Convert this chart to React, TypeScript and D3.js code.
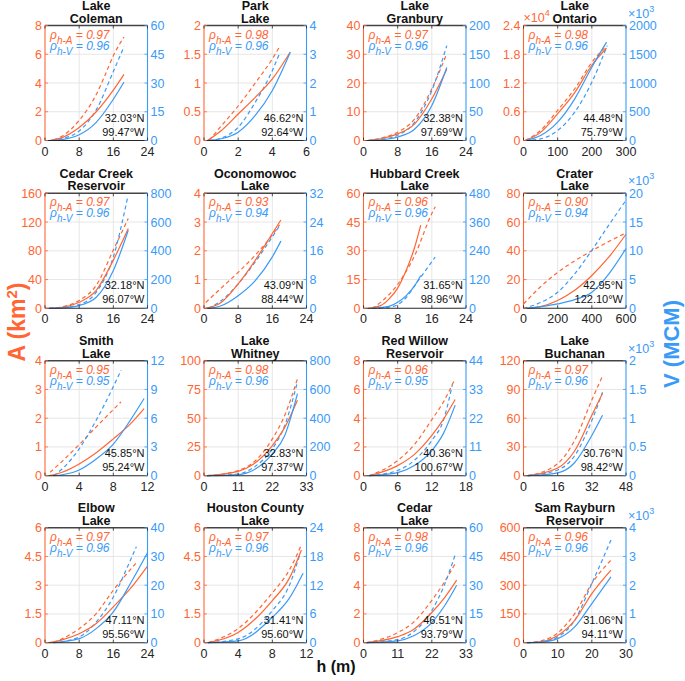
import React from "react";
import * as d3 from "d3";

// ---------- data ----------
const lakeNames: string[][] = [
  ["Lake", "Coleman"], ["Park", "Lake"], ["Lake", "Granbury"], ["Lake", "Ontario"],
  ["Cedar Creek", "Reservoir"], ["Oconomowoc", "Lake"], ["Hubbard Creek", "Lake"], ["Crater", "Lake"],
  ["Smith", "Lake"], ["Lake", "Whitney"], ["Red Willow", "Reservoir"], ["Lake", "Buchanan"],
  ["Elbow", "Lake"], ["Houston County", "Lake"], ["Cedar", "Lake"], ["Sam Rayburn", "Reservoir"],
];
const latitudes = ["32.03°N", "46.62°N", "32.38°N", "44.48°N", "32.18°N", "43.09°N", "31.65°N", "42.95°N",
  "45.85°N", "32.83°N", "40.36°N", "30.76°N", "47.11°N", "31.41°N", "46.51°N", "31.06°N"];
const longitudes = ["99.47°W", "92.64°W", "97.69°W", "75.79°W", "96.07°W", "88.44°W", "98.96°W", "122.10°W",
  "95.24°W", "97.37°W", "100.67°W", "98.42°W", "95.56°W", "95.60°W", "93.79°W", "94.11°W"];
const rhoA = ["0.97", "0.98", "0.97", "0.98", "0.97", "0.93", "0.96", "0.90", "0.95", "0.98", "0.96", "0.97", "0.97", "0.97", "0.98", "0.96"];
const rhoV = ["0.96", "0.96", "0.96", "0.96", "0.96", "0.94", "0.96", "0.94", "0.95", "0.96", "0.95", "0.96", "0.96", "0.96", "0.96", "0.96"];

const hTicks = [[0, 8, 16, 24], [0, 2, 4, 6], [0, 8, 16, 24], [0, 100, 200, 300], [0, 8, 16, 24], [0, 8, 16, 24], [0, 8, 16, 24], [0, 200, 400, 600],
  [0, 4, 8, 12], [0, 11, 22, 33], [0, 6, 12, 18], [0, 16, 32, 48], [0, 8, 16, 24], [0, 4, 8, 12], [0, 11, 22, 33], [0, 10, 20, 30]];
const areaTicks = [[0, 2, 4, 6, 8], [0, 0.5, 1, 1.5, 2], [0, 10, 20, 30, 40], [0, 0.6, 1.2, 1.8, 2.4], [0, 40, 80, 120, 160], [0, 1, 2, 3, 4], [0, 15, 30, 45, 60], [0, 20, 40, 60, 80],
  [0, 1, 2, 3, 4], [0, 25, 50, 75, 100], [0, 2, 4, 6, 8], [0, 30, 60, 90, 120], [0, 1.5, 3, 4.5, 6], [0, 1.5, 3, 4.5, 6], [0, 2, 4, 6, 8], [0, 150, 300, 450, 600]];
const volumeTicks = [[0, 15, 30, 45, 60], [0, 1, 2, 3, 4], [0, 50, 100, 150, 200], [0, 500, 1000, 1500, 2000], [0, 200, 400, 600, 800], [0, 8, 16, 24, 32], [0, 120, 240, 360, 480], [0, 5, 10, 15, 20],
  [0, 3, 6, 9, 12], [0, 200, 400, 600, 800], [0, 11, 22, 33, 44], [0, 0.5, 1, 1.5, 2], [0, 10, 20, 30, 40], [0, 6, 12, 18, 24], [0, 15, 30, 45, 60], [0, 1, 2, 3, 4]];
const areaExponent = [null, null, null, 4, null, null, null, null, null, null, null, null, null, null, null, null];
const volumeExponent = [null, null, null, 3, null, null, null, 3, null, null, null, 3, null, null, null, 3];

// A solid (observed), A dashed (estimated), V solid, V dashed : [h, value]
const areaSolid: number[][][] = [
  [[1, 0], [4, 0.2], [8, 0.9], [12, 2.0], [16, 3.5], [18.5, 4.6]],
  [[0.2, 0], [1, 0.17], [2, 0.46], [3, 0.75], [4, 1.07], [5.05, 1.54]],
  [[1, 0], [4, 0.6], [8, 2.3], [12, 5.8], [16, 14.5], [19.5, 24.8]],
  [[5, 0], [50, 0.17], [100, 0.56], [150, 1.0], [200, 1.57], [243, 1.93]],
  [[1, 0], [4, 1.4], [8, 8.4], [12, 25], [16, 67], [19.5, 111]],
  [[0.5, 0], [4, 0.2], [8, 0.85], [12, 1.67], [16, 2.6], [18, 3.07]],
  [[1, 0], [4, 1.4], [6, 4.9], [8, 10.5], [10, 19.8], [12, 32], [13.4, 43.4]],
  [[20, 0], [100, 1.2], [200, 5.4], [300, 12.5], [400, 22.8], [500, 35.7], [600, 51.5]],
  [[0.5, 0], [2, 0.12], [4, 0.41], [6, 0.8], [8, 1.28], [10, 1.8], [11.6, 2.33]],
  [[1, 0], [11, 3.8], [16, 10.2], [22, 26.2], [26, 42], [30.1, 65.6]],
  [[1, 0], [6, 0.7], [9, 1.5], [12, 2.8], [14, 3.9], [16.1, 5.3]],
  [[2, 0], [16, 8], [24, 26], [32, 63], [37, 86]],
  [[1, 0], [4, 0.15], [8, 0.47], [12, 1.0], [16, 1.87], [20, 2.83], [24, 4.0]],
  [[0.5, 0], [4, 0.53], [8, 2.2], [10, 3.37], [11.4, 4.84]],
  [[1, 0], [11, 0.42], [16, 0.9], [22, 2.1], [26, 3.1], [30, 4.35]],
  [[1, 0], [5, 5], [10, 38], [15, 117], [20, 256], [25.6, 379]],
];
const areaDashed: number[][][] = [
  [[2, 0.05], [4, 0.3], [8, 1.4], [12, 3.2], [14, 4.5], [16, 5.9], [18.5, 7.2]],
  [[0.3, 0], [1, 0.25], [2, 0.6], [3, 1.0], [4, 1.42], [4.4, 1.62]],
  [[1, 0], [4, 0.8], [8, 2.9], [12, 7.5], [16, 18], [19.5, 30.2]],
  [[5, 0], [50, 0.21], [100, 0.63], [150, 1.08], [200, 1.63], [243, 1.98]],
  [[1, 0], [4, 2], [8, 11], [12, 32], [16, 81], [19.5, 125]],
  [[0.4, 0.2], [4, 0.7], [8, 1.25], [12, 1.85], [16, 2.55], [17.7, 2.9]],
  [[2, 0], [4, 3.1], [8, 12.5], [12, 27.6], [16, 49.5], [16.8, 53]],
  [[0, 3], [100, 15], [200, 25], [300, 33], [400, 40], [500, 46.5], [600, 52.4]],
  [[0.6, 0.12], [2, 0.5], [4, 1.08], [6, 1.7], [8, 2.3], [8.9, 2.57]],
  [[1, 0], [11, 4.5], [16, 11.7], [22, 32], [26, 52.5], [30.1, 84.5]],
  [[1, 0], [6, 1.05], [9, 2.2], [12, 3.9], [14, 5.1], [15.9, 6.6]],
  [[2, 0], [16, 12.6], [24, 37], [32, 79], [37, 104]],
  [[2, 0], [4, 0.2], [8, 0.73], [12, 1.52], [16, 2.74], [21.6, 4.22]],
  [[0.5, 0], [4, 0.74], [8, 2.6], [10, 3.8], [11.4, 5.1]],
  [[1, 0], [11, 0.7], [16, 1.4], [22, 2.95], [26, 4.2], [29.5, 5.5]],
  [[1, 0], [5, 9], [10, 51], [15, 152], [20, 309], [25.6, 431]],
];
const volumeSolid: number[][][] = [
  [[1, 0], [4, 0.5], [8, 3], [12, 9.5], [16, 21.5], [18.5, 30.5]],
  [[0.2, 0], [1, 0.06], [2, 0.29], [3, 0.87], [4, 1.74], [5.05, 3.07]],
  [[1, 0], [4, 1], [8, 6], [12, 20], [16, 61], [19.5, 127]],
  [[5, 0], [50, 87], [100, 320], [150, 725], [200, 1275], [243, 1710]],
  [[1, 0], [4, 3], [8, 19], [12, 77], [16, 263], [19.5, 543]],
  [[1, 0], [4, 0.7], [8, 3.5], [12, 7.7], [16, 14.3], [18, 18.7]],
  [[2, 0], [6, 8], [8, 25], [10, 53], [12, 95], [13.4, 137]],
  [[20, 0], [200, 0.76], [300, 1.5], [400, 2.8], [500, 6.0], [600, 10.4]],
  [[1, 0], [2, 0.1], [4, 0.6], [6, 1.75], [8, 3.3], [10, 5.8], [11.6, 8.05]],
  [[1, 0], [11, 8], [16, 40], [22, 152], [26, 280], [30.1, 571]],
  [[1, 0], [6, 1.2], [9, 4], [12, 9.6], [14, 16], [16.1, 27]],
  [[2, 0], [16, 0.05], [24, 0.23], [32, 0.7], [37, 1.05]],
  [[2, 0], [8, 1.4], [12, 4.9], [16, 10.7], [20, 20.6], [24, 31.3]],
  [[0.5, 0], [4, 0.4], [8, 5.3], [10, 9.3], [11.6, 14.5]],
  [[1, 0], [11, 1], [16, 3.5], [22, 10.5], [26, 19], [30, 30]],
  [[1, 0], [5, 0.02], [10, 0.14], [15, 0.55], [20, 1.36], [25.6, 2.29]],
];
const volumeDashed: number[][][] = [
  [[1.5, 0], [4, 1], [8, 5], [12, 16], [16, 36], [18.5, 49]],
  [[0.3, 0], [1, 0.08], [2, 0.46], [3, 1.33], [4, 2.43], [4.4, 3.0]],
  [[1, 0], [4, 1.5], [8, 9], [12, 32], [16, 87], [19.5, 165]],
  [[5, 0], [50, 29], [100, 174], [150, 493], [200, 1015], [245, 1650]],
  [[1, 0], [4, 4], [8, 26], [12, 112], [16, 357], [19.3, 765]],
  [[1, 0], [4, 2.1], [8, 6.8], [12, 12.9], [16, 19.9], [17.7, 23]],
  [[2, 0], [6, 5], [8, 15], [10, 45], [12, 95], [14, 145], [16.8, 214]],
  [[0, 0], [100, 1.0], [200, 2.8], [300, 6.0], [400, 10.1], [500, 14.5], [600, 18.8]],
  [[1, 0], [2, 0.7], [4, 2.8], [6, 5.8], [8, 9.3], [8.9, 11]],
  [[1, 0], [11, 12], [16, 58], [22, 187], [26, 350], [30.1, 653]],
  [[1, 0], [6, 2], [9, 6], [12, 13.5], [14, 21], [15.6, 34.7]],
  [[2, 0], [16, 0.1], [24, 0.35], [32, 0.96], [37, 1.45]],
  [[2, 0], [8, 2], [12, 7.2], [16, 15.9], [20, 28.7], [21.4, 33.4]],
  [[0.5, 0], [4, 0.8], [8, 6.7], [10, 12], [11.2, 18.3]],
  [[1, 0], [11, 1.6], [16, 5.5], [22, 16.8], [26, 30], [29.5, 45.8]],
  [[1, 0], [5, 0.03], [10, 0.2], [15, 0.78], [20, 2.06], [25.6, 3.57]],
];

// ---------- style / layout ----------
const ORANGE = "#FF6633";
const BLUE = "#3A9AF7";
const FONT = "'Liberation Sans', Arial, Helvetica, sans-serif";
const colLeft = [45, 204, 363.5, 523.5];
const rowTop = [25.5, 193.3, 360.7, 527.7];
const PW = 102.5;
const PH = 115;

function Panel({ i }: { i: number }) {
  const x0 = colLeft[i % 4];
  const y0 = rowTop[Math.floor(i / 4)];
  const ht = hTicks[i], at = areaTicks[i], vt = volumeTicks[i];
  const xs = d3.scaleLinear().domain([0, ht[ht.length - 1]]).range([x0, x0 + PW]);
  const ya = d3.scaleLinear().domain([0, at[at.length - 1]]).range([y0 + PH, y0]);
  const yv = d3.scaleLinear().domain([0, vt[vt.length - 1]]).range([y0 + PH, y0]);
  const lineA = d3.line<number[]>().x((d) => xs(d[0])).y((d) => ya(d[1])).curve(d3.curveMonotoneX);
  const lineV = d3.line<number[]>().x((d) => xs(d[0])).y((d) => yv(d[1])).curve(d3.curveMonotoneX);
  const bottom = y0 + PH, right = x0 + PW;
  const aExp = areaExponent[i], vExp = volumeExponent[i];
  return (
    <g fontFamily={FONT}>
      {/* grid */}
      {ht.slice(1, -1).map((t) => (
        <line key={"gx" + t} x1={xs(t)} x2={xs(t)} y1={y0} y2={bottom} stroke="#e0e0e0" strokeWidth={0.8} />
      ))}
      {at.slice(1, -1).map((t) => (
        <line key={"gy" + t} x1={x0} x2={right} y1={ya(t)} y2={ya(t)} stroke="#e0e0e0" strokeWidth={0.8} />
      ))}
      {/* curves */}
      <path d={lineA(areaDashed[i]) || ""} fill="none" stroke={ORANGE} strokeWidth={1.2} strokeDasharray="4 3" />
      <path d={lineV(volumeDashed[i]) || ""} fill="none" stroke={BLUE} strokeWidth={1.2} strokeDasharray="4 3" />
      <path d={lineA(areaSolid[i]) || ""} fill="none" stroke={ORANGE} strokeWidth={1.2} />
      <path d={lineV(volumeSolid[i]) || ""} fill="none" stroke={BLUE} strokeWidth={1.2} />
      {/* frame */}
      <line x1={x0} x2={right} y1={y0} y2={y0} stroke="#444" strokeWidth={1.4} />
      <line x1={x0} x2={right} y1={bottom} y2={bottom} stroke="#262626" strokeWidth={1.1} />
      <line x1={x0} x2={x0} y1={y0} y2={bottom} stroke={ORANGE} strokeWidth={1.1} />
      <line x1={right} x2={right} y1={y0} y2={bottom} stroke={BLUE} strokeWidth={1.1} />
      {/* ticks */}
      {ht.map((t) => (
        <g key={"tx" + t}>
          <line x1={xs(t)} x2={xs(t)} y1={bottom} y2={bottom - 3} stroke="#262626" strokeWidth={0.8} />
          <line x1={xs(t)} x2={xs(t)} y1={y0} y2={y0 + 3} stroke="#262626" strokeWidth={0.8} />
          <text x={xs(t)} y={bottom + 15} textAnchor="middle" fontSize={12.5} fill="#262626">{String(t)}</text>
        </g>
      ))}
      {at.map((t) => (
        <g key={"ta" + t}>
          <line x1={x0} x2={x0 + 3} y1={ya(t)} y2={ya(t)} stroke={ORANGE} strokeWidth={0.8} />
          <text x={x0 - 3} y={ya(t)} dy="0.36em" textAnchor="end" fontSize={12.5} fill={ORANGE}>{String(t)}</text>
        </g>
      ))}
      {vt.map((t) => (
        <g key={"tv" + t}>
          <line x1={right} x2={right - 3} y1={yv(t)} y2={yv(t)} stroke={BLUE} strokeWidth={0.8} />
          <text x={right + 3} y={yv(t)} dy="0.36em" textAnchor="start" fontSize={12.5} fill={BLUE}>{String(t)}</text>
        </g>
      ))}
      {aExp !== null && (
        <text x={x0} y={y0 - 4} fontSize={12.5} fill={ORANGE}>
          ×10<tspan dy={-6} fontSize={9}>{aExp}</tspan>
        </text>
      )}
      {vExp !== null && (
        <text x={right + 2} y={y0 - 8} fontSize={12.5} fill={BLUE}>
          ×10<tspan dy={-6} fontSize={9}>{vExp}</tspan>
        </text>
      )}
      {/* title */}
      <text x={(x0 + right) / 2} y={y0 - 15.5} textAnchor="middle" fontSize={12.5} fontWeight="bold" fill="#111">{lakeNames[i][0]}</text>
      <text x={(x0 + right) / 2} y={y0 - 3} textAnchor="middle" fontSize={12.5} fontWeight="bold" fill="#111">{lakeNames[i][1]}</text>
      {/* correlations */}
      <text x={x0 + 5} y={y0 + 13} fontSize={12} fontStyle="italic" fill={ORANGE}>
        ρ<tspan fontSize={10} dy={5}>h-A</tspan><tspan dy={-5}> = {rhoA[i]}</tspan>
      </text>
      <text x={x0 + 5} y={y0 + 24} fontSize={12} fontStyle="italic" fill={BLUE}>
        ρ<tspan fontSize={10} dy={5}>h-V</tspan><tspan dy={-5}> = {rhoV[i]}</tspan>
      </text>
      {/* coordinates */}
      <text x={right - 3} y={bottom - 19} textAnchor="end" fontSize={11} fill="#111">{latitudes[i]}</text>
      <text x={right - 3} y={bottom - 5} textAnchor="end" fontSize={11} fill="#111">{longitudes[i]}</text>
    </g>
  );
}

export default function App() {
  return (
    <svg width={685} height={681} style={{ position: "absolute", left: 0, top: 0, background: "#fff" }}>
      <rect x={0} y={0} width={685} height={681} fill="#fff" />
      {lakeNames.map((_, i) => (
        <Panel key={i} i={i} />
      ))}
      <text transform="translate(25,322) rotate(-90)" textAnchor="middle" fontFamily={FONT} fontSize={23} fontWeight="bold" fill={ORANGE}>
        A (km<tspan dy={-8} fontSize={15}>2</tspan><tspan dy={8}>)</tspan>
      </text>
      <text transform="translate(679,344) rotate(-90)" textAnchor="middle" fontFamily={FONT} fontSize={22} fontWeight="bold" fill={BLUE}>
        V (MCM)
      </text>
      <text x={336} y={672} textAnchor="middle" fontFamily={FONT} fontSize={16} fontWeight="bold" fill="#111">h (m)</text>
    </svg>
  );
}
